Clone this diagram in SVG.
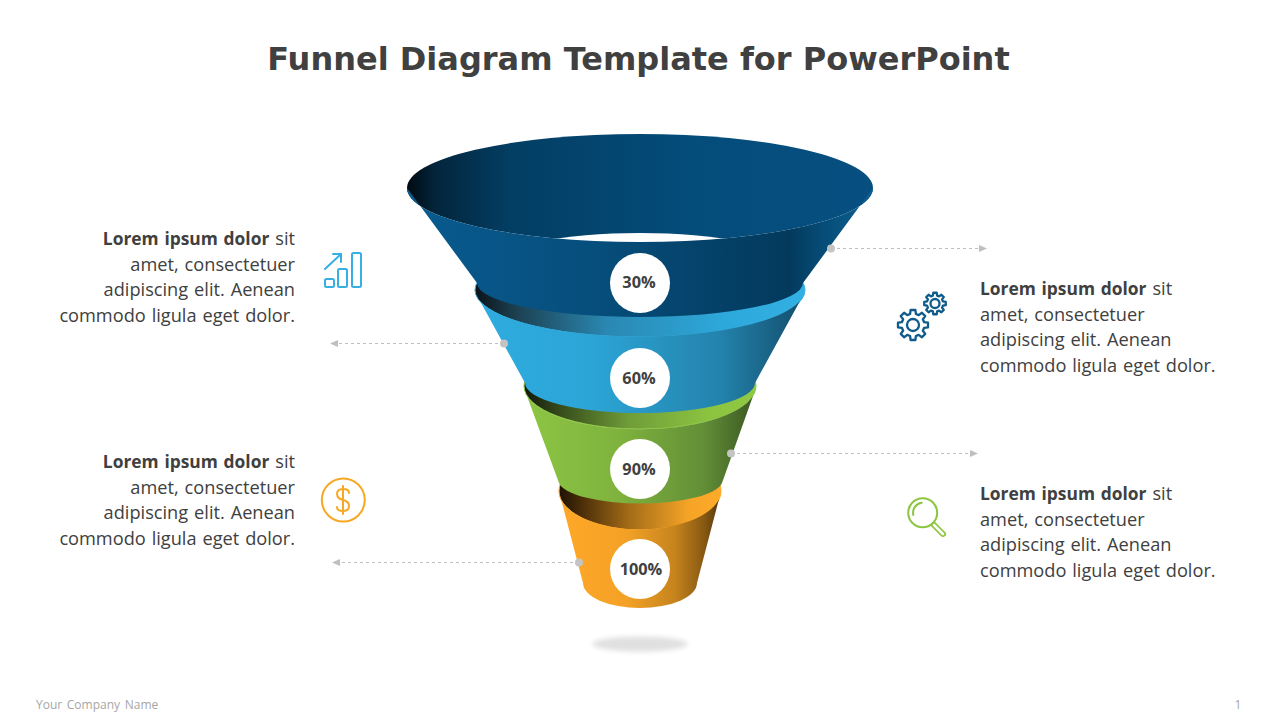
<svg xmlns="http://www.w3.org/2000/svg" width="1280" height="720" viewBox="0 0 1280 720">
<style>
text{font-family:"Open Sans","Noto Sans",sans-serif;fill:#404040}
.t{font-family:"DejaVu Sans",Verdana,sans-serif;font-weight:700;font-size:32px;text-anchor:middle}
.b{font-size:18.2px;word-spacing:1.2px}
.r{text-anchor:end}
.bo{font-weight:700;font-size:17.4px}
.p{font-size:16.300px;font-weight:700;text-anchor:middle}
.f{font-size:12px;fill:#a6a6a6;word-spacing:1.500px}
.c{stroke:#bfbfbf;stroke-width:1;stroke-dasharray:3 3;fill:none}
.d{fill:#c4c4c4}
.i{fill:none;stroke-width:2;stroke-linecap:round;stroke-linejoin:round}
.w{fill:#fff}
</style>
<defs>
<marker id="ah" viewBox="0 0 8 8" refX="7" refY="4" markerWidth="8" markerHeight="8" orient="auto-start-reverse" markerUnits="userSpaceOnUse"><path d="M0,0.5 L8,4 L0,7.5 Z" fill="#bfbfbf"/></marker>
<linearGradient id="n1"><stop offset="0" stop-color="#020a10"/><stop offset=".06" stop-color="#03253c"/><stop offset=".22" stop-color="#033e63"/><stop offset=".6" stop-color="#044c7a"/><stop offset="1" stop-color="#064f80"/></linearGradient>
<linearGradient id="n2"><stop offset="0" stop-color="#095b90"/><stop offset=".4" stop-color="#064e7c"/><stop offset=".7" stop-color="#043f65"/><stop offset=".82" stop-color="#033a5c"/><stop offset=".9" stop-color="#064e7a"/><stop offset="1" stop-color="#0d6092"/></linearGradient>
<linearGradient id="b1"><stop offset="0" stop-color="#0b1318"/><stop offset=".12" stop-color="#1c3f50"/><stop offset=".4" stop-color="#2a88b2"/><stop offset=".75" stop-color="#2da8da"/><stop offset="1" stop-color="#33b0e3"/></linearGradient>
<linearGradient id="b2"><stop offset="0" stop-color="#2fabdf"/><stop offset=".35" stop-color="#2ca5d6"/><stop offset=".75" stop-color="#2383ac"/><stop offset=".95" stop-color="#175a7c"/><stop offset="1" stop-color="#14506f"/></linearGradient>
<linearGradient id="g1"><stop offset="0" stop-color="#12180a"/><stop offset=".15" stop-color="#354a1a"/><stop offset=".45" stop-color="#6f9c39"/><stop offset=".8" stop-color="#8cc440"/><stop offset="1" stop-color="#8fc843"/></linearGradient>
<linearGradient id="g2"><stop offset="0" stop-color="#8cc543"/><stop offset=".4" stop-color="#7fb33e"/><stop offset=".78" stop-color="#638f37"/><stop offset=".95" stop-color="#456628"/><stop offset="1" stop-color="#3c5a22"/></linearGradient>
<linearGradient id="o1"><stop offset="0" stop-color="#1e1203"/><stop offset=".15" stop-color="#4e3009"/><stop offset=".45" stop-color="#a86f18"/><stop offset=".8" stop-color="#f5a427"/><stop offset="1" stop-color="#ffaa29"/></linearGradient>
<linearGradient id="o2"><stop offset="0" stop-color="#ffa828"/><stop offset=".42" stop-color="#f3a126"/><stop offset=".72" stop-color="#c6841d"/><stop offset=".9" stop-color="#8a5a13"/><stop offset="1" stop-color="#5a3b0a"/></linearGradient>
<filter id="bl" x="-30%" y="-80%" width="160%" height="260%"><feGaussianBlur stdDeviation="2.5"/></filter>
<path id="gear" d="M11.6,-3.1 L15.8,-2.5 15.8,2.5 11.6,3.1 10.4,6 12.9,9.4 9.4,12.9 6,10.4 3.1,11.6 2.5,15.8 -2.5,15.8 -3.1,11.6 -6,10.4 -9.4,12.9 -12.9,9.4 -10.4,6 -11.6,3.1 -15.8,2.5 -15.8,-2.5 -11.6,-3.1 -10.4,-6 -12.9,-9.4 -9.4,-12.9 -6,-10.4 -3.1,-11.6 -2.5,-15.8 2.5,-15.8 3.1,-11.6 6,-10.4 9.4,-12.9 12.9,-9.4 10.4,-6 Z" fill="none" stroke="#0f5c8c" stroke-width="2.300" stroke-linejoin="round" vector-effect="non-scaling-stroke"/>
</defs>

<text class="t" x="638.5" y="70">Funnel Diagram Template for PowerPoint</text>

<ellipse id="shadow" cx="640" cy="644" rx="48" ry="7.5" fill="#e0e0e0" filter="url(#bl)"/>

<g id="stage-orange">
<ellipse cx="640" cy="491" rx="81" ry="39" fill="url(#o1)" stroke="#ffaa29"/>
<path d="M561,499 A81,39 0 0 0 719,499 L697,583 A57,25 0 0 1 583,583 Z" fill="url(#o2)"/>
</g>
<g id="stage-green">
<ellipse cx="640" cy="386" rx="116" ry="43" fill="url(#g1)" stroke="#8fc843"/>
<path d="M527,396 A116,43 0 0 0 753,396 L722,483 A82,23 0 0 1 559,483 Z" fill="url(#g2)"/>
</g>
<g id="stage-blue">
<ellipse cx="640" cy="290" rx="165" ry="47" fill="url(#b1)" stroke="#33b0e3"/>
<path d="M480,301 A165,47 0 0 0 800,301 L755,383 A115,30 0 0 1 525,383 Z" fill="url(#b2)"/>
</g>
<g id="stage-navy">
<ellipse cx="640" cy="188" rx="233" ry="54" fill="url(#n1)"/>
<ellipse cx="640" cy="262" rx="142" ry="29" class="w"/>
<path d="M407,188 A233,54 0 0 0 873,188 L803,283 A163,34 0 0 1 477,283 Z" fill="url(#n2)"/>
</g>

<g id="badge-30"><circle cx="640" cy="283" r="30" class="w"/><text class="p" x="639" y="288">30%</text></g>
<g id="badge-60"><circle cx="640" cy="378" r="30" class="w"/><text class="p" x="639" y="384">60%</text></g>
<g id="badge-90"><circle cx="640" cy="469" r="30" class="w"/><text class="p" x="639" y="475">90%</text></g>
<g id="badge-100"><circle cx="640" cy="569" r="30" class="w"/><text class="p" x="641" y="575">100%</text></g>

<g id="connectors">
<line class="c" x1="831" y1="248.500" x2="986" y2="248.500" marker-end="url(#ah)"/><circle class="d" cx="831" cy="248.500" r="4"/>
<line class="c" x1="504" y1="343.500" x2="331" y2="343.500" marker-end="url(#ah)"/><circle class="d" cx="504" cy="343.500" r="4"/>
<line class="c" x1="731" y1="453.500" x2="977" y2="453.500" marker-end="url(#ah)"/><circle class="d" cx="731" cy="453.500" r="4"/>
<line class="c" x1="579" y1="562.500" x2="333" y2="562.500" marker-end="url(#ah)"/><circle class="d" cx="579" cy="562.500" r="4"/>
</g>

<g id="text-1">
<text class="b r" x="295" y="245"><tspan class="bo">Lorem ipsum dolor</tspan> sit</text>
<text class="b r" x="295" y="271">amet, consectetuer</text>
<text class="b r" x="295" y="296">adipiscing elit. Aenean</text>
<text class="b r" x="295" y="322">commodo ligula eget dolor.</text>
</g>
<g id="text-2">
<text class="b" x="980" y="295"><tspan class="bo">Lorem ipsum dolor</tspan> sit</text>
<text class="b" x="980" y="321">amet, consectetuer</text>
<text class="b" x="980" y="346">adipiscing elit. Aenean</text>
<text class="b" x="980" y="372">commodo ligula eget dolor.</text>
</g>
<g id="text-3">
<text class="b r" x="295" y="468"><tspan class="bo">Lorem ipsum dolor</tspan> sit</text>
<text class="b r" x="295" y="494">amet, consectetuer</text>
<text class="b r" x="295" y="519">adipiscing elit. Aenean</text>
<text class="b r" x="295" y="545">commodo ligula eget dolor.</text>
</g>
<g id="text-4">
<text class="b" x="980" y="500"><tspan class="bo">Lorem ipsum dolor</tspan> sit</text>
<text class="b" x="980" y="526">amet, consectetuer</text>
<text class="b" x="980" y="551">adipiscing elit. Aenean</text>
<text class="b" x="980" y="577">commodo ligula eget dolor.</text>
</g>

<g id="icon-chart" class="i" stroke="#36b0e4">
<rect x="325" y="279" width="9" height="8" rx="1.500"/>
<rect x="338" y="269" width="9" height="18" rx="1.500"/>
<rect x="352" y="253" width="9" height="34" rx="1.500"/>
<path d="M325,269 L341,254 M333,254 H341 V262"/>
</g>
<g id="icon-gears">
<use href="#gear" transform="translate(913,325) scale(.95)"/>
<circle cx="913" cy="325" r="6" fill="none" stroke="#0f5c8c" stroke-width="2.300"/>
<use href="#gear" transform="translate(935,303.500) scale(.68)"/>
<circle cx="935" cy="303.500" r="4.500" fill="none" stroke="#0f5c8c" stroke-width="2.300"/>
</g>
<g id="icon-dollar" class="i" stroke="#f7a823">
<circle cx="343.300" cy="500" r="21.500"/>
<path d="M349,493 C349,490 346,489 343,489 C339,489 337,491 337,494 C337,498 340,499 343,500 C347,501 349,503 349,506 C349,509 347,511 343,511 C340,511 337,510 337,507 M343,486 V514"/>
</g>
<g id="icon-search" class="i" stroke="#8cc63f">
<circle cx="922.700" cy="512.700" r="14.500"/>
<path d="M913.300,515 C912,509 916,503.500 921.700,502.700"/>
<path d="M934,525 L943,534" stroke-width="6"/>
<path d="M934,525 L943,534" stroke="#fff" stroke-width="2.500"/>
</g>

<text class="f" x="36" y="709">Your Company Name</text>
<text class="f" x="1234.500" y="709">1</text>
</svg>
